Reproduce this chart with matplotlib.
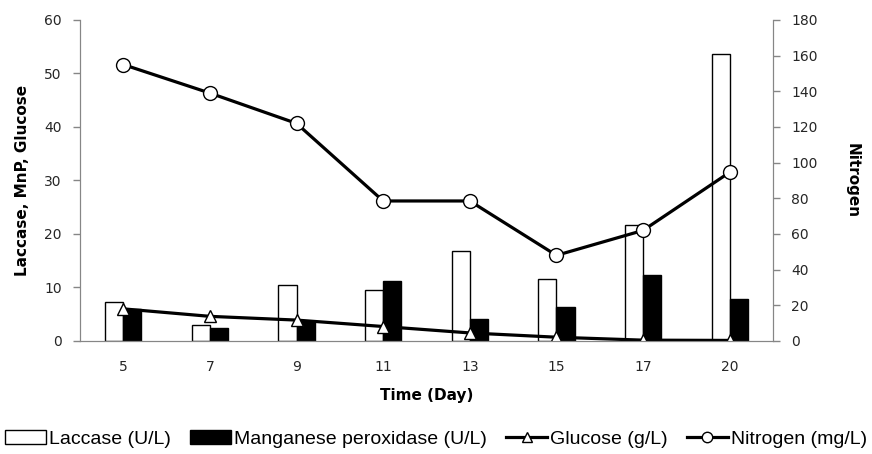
import matplotlib
matplotlib.use("Agg")
import matplotlib.pyplot as plt
import numpy as np

days = ["5", "7", "9", "11", "13", "15", "17", "20"]
laccase = [7.2, 2.9, 10.5, 9.5, 16.8, 11.5, 21.7, 53.6]
mnp = [6.0, 2.4, 3.8, 11.2, 4.1, 6.4, 12.3, 7.8]
glucose = [6.0, 4.6, 3.9, 2.7, 1.5, 0.7, 0.15, 0.1]
nitrogen = [155, 139, 122, 78.5, 78.5, 48, 62, 94.6]

grey = "#868686"
tcol = "#262626"

fig = plt.figure(figsize=(8.72, 4.54), dpi=100)
ax = fig.add_axes([0.0917, 0.249, 0.7948, 0.707])
ax2 = ax.twinx()

x = np.arange(len(days))
w = 0.21
b1 = ax.bar(x - w / 2, laccase, w, color="white", edgecolor="black", linewidth=1, label="Laccase (U/L)", zorder=2)
b2 = ax.bar(x + w / 2, mnp, w, color="black", edgecolor="black", linewidth=1, label="Manganese peroxidase (U/L)", zorder=2)
l1, = ax.plot(x, glucose, color="black", lw=2.3, marker="^", ms=9, mfc="white", mec="black", mew=1,
              label="Glucose (g/L)", zorder=3)
l2, = ax2.plot(x, nitrogen, color="black", lw=2.3, marker="o", ms=10, mfc="white", mec="black", mew=1,
               label="Nitrogen (mg/L)", zorder=3)

ax.set_xlim(-0.5, len(days) - 0.5)
ax.set_ylim(0, 60)
ax2.set_ylim(0, 180)
ax.set_yticks(range(0, 61, 10))
ax2.set_yticks(range(0, 181, 20))
ax.set_xticks(x)
ax.set_xticklabels(days)

for a in (ax, ax2):
    for s in a.spines.values():
        s.set_color(grey)
    a.spines["top"].set_visible(False)
    a.tick_params(axis="y", colors=grey, labelcolor=tcol, labelsize=10, length=5, width=1, direction="out")
ax.tick_params(axis="x", length=0, labelsize=10, labelcolor=tcol, pad=14)
ax.tick_params(axis="y", pad=8)
ax2.tick_params(axis="y", pad=8)

ax.set_xlabel("Time (Day)", fontsize=11, fontweight="bold", labelpad=10)
ax.set_ylabel("Laccase, MnP, Glucose", fontsize=11, fontweight="bold", labelpad=10)
ax2.set_ylabel("Nitrogen", fontsize=11, fontweight="bold", rotation=270, labelpad=30)

fig.legend(handles=[b1, b2, l1, l2], loc="center", bbox_to_anchor=(0.5, 0.033), ncol=4, frameon=False,
           prop={"family": "Liberation Sans", "size": 14}, handlelength=2.1, handletextpad=0.15,
           columnspacing=1.0, borderpad=0, markerscale=0.75)

fig.savefig("out.png", dpi=100)
